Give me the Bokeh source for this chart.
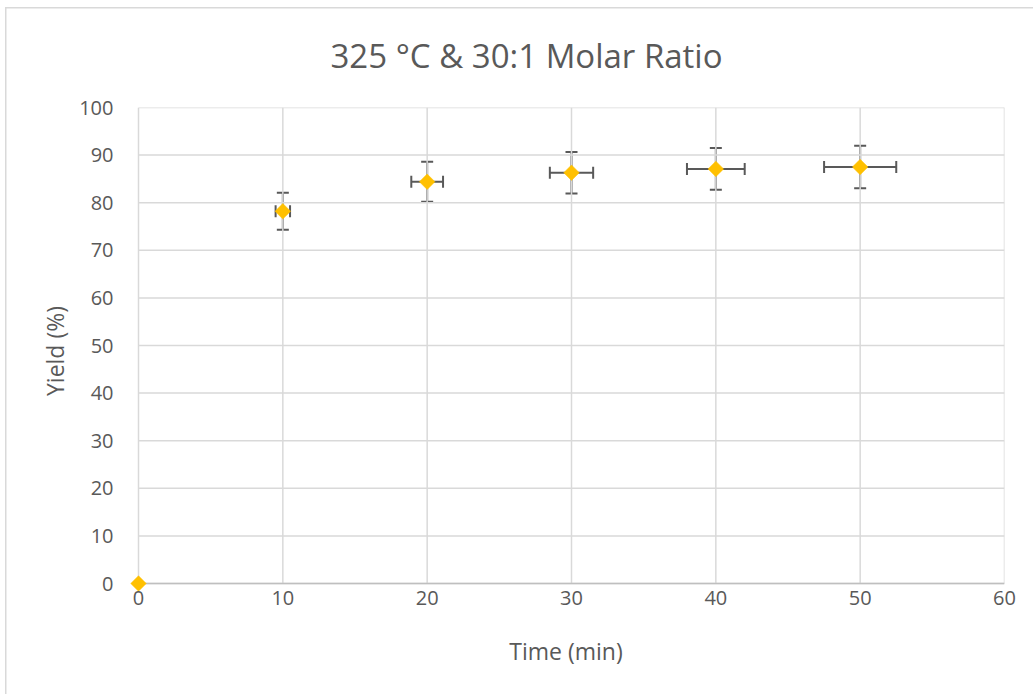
import math
from bokeh.plotting import figure
from bokeh.models import ColumnDataSource, Whisker, TeeHead, FixedTicker, Range1d
from bokeh.embed import file_html
from bokeh.resources import INLINE

time_min = [0, 10, 20, 30, 40, 50]
yield_pct = [0, 78.2, 84.4, 86.3, 87.1, 87.5]
time_err = [0, 0.5, 1.1, 1.5, 2.0, 2.5]
yield_err = [0, 3.9, 4.2, 4.35, 4.4, 4.45]
x_ticks = [0, 10, 20, 30, 40, 50, 60]
y_ticks = [0, 10, 20, 30, 40, 50, 60, 70, 80, 90, 100]

FONT = "Open Sans"
GREY = "#595959"
GRID = "#d9d9d9"

# page geometry (px): chart-box edge offset, frame edges in page coordinates
OX, OY = 5, 7
PAD = 11
left, right, top, bottom = 138, 1004, 107, 583
W, H = 1033, 694
xscale = (right - left) / 60.0
yscale = (bottom - top) / 100.0

p = figure(width=W, height=H, output_backend="svg", toolbar_location=None,
           x_range=Range1d(-PAD / xscale, 60), y_range=Range1d(-PAD / yscale, 100),
           min_border_left=left - PAD, min_border_right=W - right,
           min_border_top=top, min_border_bottom=H - bottom - PAD,
           title="325 °C & 30:1 Molar Ratio")
p.outline_line_color = None
p.border_fill_color = None
p.background_fill_color = None
p.xgrid.visible = False
p.ygrid.visible = False
# thin chart-area border (top and left edges) painted behind the transparent canvas
p.styles = {
    "background-color": "white",
    "background-image": f"linear-gradient({GRID},{GRID}), linear-gradient({GRID},{GRID})",
    "background-size": "100% 1.5px, 1.5px 100%",
    "background-position": f"{OX}px {OY}px, {OX}px {OY}px",
    "background-repeat": "no-repeat",
}

p.title.text_font = FONT
p.title.text_font_size = "33px"
p.title.text_font_style = "normal"
p.title.text_color = GREY
p.title.align = "left"
p.title.offset = 330 - (left - PAD)
p.title.standoff = 60

p.xaxis.ticker = FixedTicker(ticks=x_ticks)
p.yaxis.ticker = FixedTicker(ticks=y_ticks)
for ax in (p.xaxis[0], p.yaxis[0]):
    ax.major_tick_line_color = None
    ax.minor_tick_line_color = None
    ax.axis_line_color = None
    ax.major_label_text_font = FONT
    ax.major_label_text_font_size = "20px"
    ax.major_label_text_color = GREY
    ax.axis_label_text_font = FONT
    ax.axis_label_text_font_size = "23px"
    ax.axis_label_text_font_style = "normal"
    ax.axis_label_text_color = GREY
p.xaxis.major_label_standoff = -10
p.yaxis.major_label_standoff = 8
p.xaxis.axis_label = "Time (min)"
p.yaxis.axis_label = "Yield (%)"
p.xaxis.axis_label_standoff = 27
p.yaxis.axis_label_standoff = 5

# gridlines restricted to the data area
p.segment(x0=x_ticks, x1=x_ticks, y0=[0] * len(x_ticks), y1=[100] * len(x_ticks),
          line_color=GRID, line_width=1.5)
p.segment(x0=[0] * len(y_ticks), x1=[60] * len(y_ticks), y0=y_ticks, y1=y_ticks,
          line_color=GRID, line_width=1.5)
p.segment(x0=[0], x1=[60], y0=[0], y1=[0], line_color="#bfbfbf", line_width=1.5)

src = ColumnDataSource(dict(x=time_min, y=yield_pct))
err = ColumnDataSource(dict(
    x=time_min[1:], y=yield_pct[1:],
    yl=[v - e for v, e in zip(yield_pct[1:], yield_err[1:])],
    yu=[v + e for v, e in zip(yield_pct[1:], yield_err[1:])],
    xl=[v - e for v, e in zip(time_min[1:], time_err[1:])],
    xu=[v + e for v, e in zip(time_min[1:], time_err[1:])],
))

def head():
    return TeeHead(size=12, line_color=GREY, line_width=2)

p.add_layout(Whisker(source=err, base="x", lower="yl", upper="yu", dimension="height",
                     line_color=GREY, line_width=2, upper_head=head(), lower_head=head()))
p.add_layout(Whisker(source=err, base="y", lower="xl", upper="xu", dimension="width",
                     line_color=GREY, line_width=2, upper_head=head(), lower_head=head()))

p.scatter("x", "y", source=src, marker="square", size=11, angle=math.pi / 4,
          fill_color="#FFC000", line_color="#FFC000", line_width=0.5)

open("out.html", "w").write(file_html(p, INLINE))
